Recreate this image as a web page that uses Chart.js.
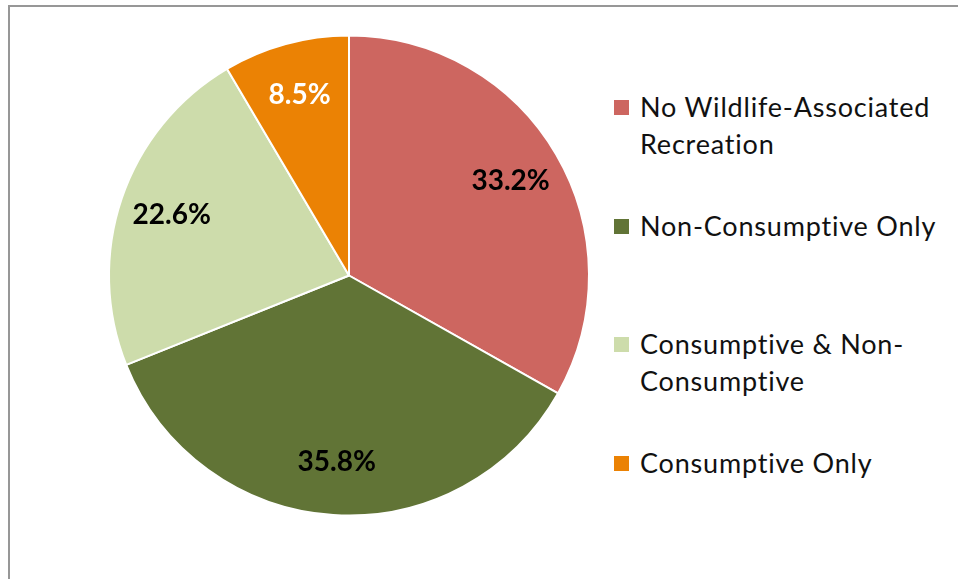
<!DOCTYPE html>
<html>
<head>
<meta charset="utf-8">
<script src="https://cdn.jsdelivr.net/npm/chart.js@4"></script>
<style>
    html, body { margin: 0; padding: 0; background: #fff; }
    body { width: 958px; height: 579px; position: relative; overflow: hidden; font-family: Lato, sans-serif; }
    #frame {
        position: absolute; left: 8px; top: 5px; width: 960px; height: 600px;
        border-left: 2px solid #979797; border-top: 2px solid #979797;
    }
    #pie-box { position: absolute; left: 104px; top: 30px; width: 490px; height: 491px; }
    #legend { position: absolute; left: 614px; top: 88px; margin: 0; padding: 0; list-style: none; }
    #legend li { height: 118.5px; display: flex; align-items: flex-start; }
    #legend .box { width: 15px; height: 15px; margin-top: 12px; margin-right: 11px; flex: none; }
    #legend .txt { font-size: 27px; letter-spacing: 0.8px; line-height: 37px; color: #111; width: 320px; }
</style>
</head>
<body>
<div id="frame"></div>
<div id="pie-box"><canvas id="chart-pie"></canvas></div>
<ul id="legend"></ul>
<script>
const categories = [
    ['No Wildlife-Associated', 'Recreation'],
    ['Non-Consumptive Only'],
    ['Consumptive & Non-', 'Consumptive'],
    ['Consumptive Only']
];
const shares = [33.2, 35.8, 22.6, 8.5];
const sliceColors = ['#CD6660', '#617436', '#CDDCAB', '#EB8204'];
const labelColors = ['#000000', '#000000', '#000000', '#FFFFFF'];

// draw percent labels inside each slice
const sliceLabels = {
    id: 'sliceLabels',
    afterDatasetsDraw(chart) {
        const ctx = chart.ctx;
        const meta = chart.getDatasetMeta(0);
        ctx.save();
        ctx.font = "bold 28px Lato, sans-serif";
        ctx.textAlign = 'center';
        ctx.textBaseline = 'middle';
        meta.data.forEach((arc, i) => {
            const p = arc.getProps(['x', 'y', 'startAngle', 'endAngle', 'outerRadius'], true);
            const mid = (p.startAngle + p.endAngle) / 2;
            const r = p.outerRadius * 0.78;
            ctx.fillStyle = labelColors[i];
            ctx.fillText(shares[i].toFixed(1) + '%', p.x + Math.cos(mid) * r, p.y + Math.sin(mid) * r);
        });
        ctx.restore();
    }
};

new Chart(document.getElementById('chart-pie').getContext('2d'), {
    type: 'pie',
    data: {
        labels: categories.map(c => c.join(' ')),
        datasets: [{
            data: shares,
            backgroundColor: sliceColors,
            borderColor: '#ffffff',
            borderWidth: 2
        }]
    },
    options: {
        responsive: true,
        maintainAspectRatio: false,
        animation: false,
        layout: { padding: 4 },
        plugins: {
            legend: { display: false },
            tooltip: { enabled: false }
        }
    },
    plugins: [sliceLabels]
});

// html legend so the long names can wrap like the original
const legend = document.getElementById('legend');
categories.forEach((lines, i) => {
    const li = document.createElement('li');
    const box = document.createElement('span');
    box.className = 'box';
    box.style.background = sliceColors[i];
    const txt = document.createElement('span');
    txt.className = 'txt';
    txt.innerHTML = lines.join('<br>');
    li.appendChild(box);
    li.appendChild(txt);
    legend.appendChild(li);
});
</script>
</body>
</html>
